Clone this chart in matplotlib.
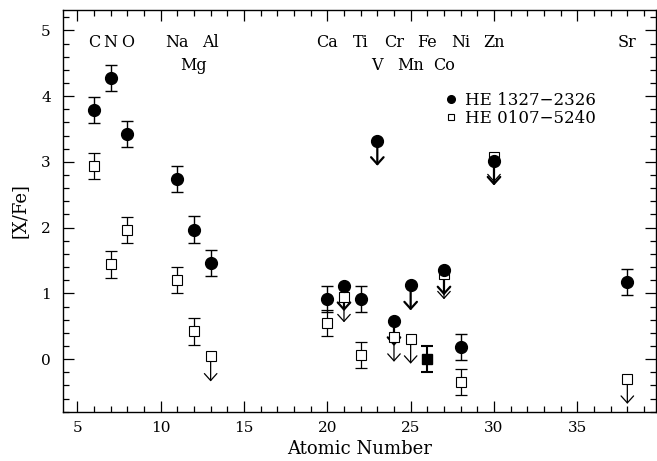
import matplotlib
matplotlib.use('Agg')
import matplotlib.pyplot as plt
from matplotlib.ticker import MultipleLocator
from matplotlib.lines import Line2D

plt.rcParams['font.family'] = ['DejaVu Serif']

# HE 1327-2326 (filled circles)
z_1327 = [6, 7, 8, 11, 12, 13, 20, 21, 22, 23, 24, 25, 27, 28, 30, 38]
xfe_1327 = [3.79, 4.28, 3.42, 2.74, 1.97, 1.46, 0.91, 1.11, 0.91, 3.32, 0.58, 1.12, 1.35, 0.18, 3.02, 1.17]
err_1327 = [0.2, 0.2, 0.2, 0.2, 0.2, 0.2, 0.2, 0.0, 0.2, 0.0, 0.0, 0.0, 0.0, 0.2, 0.0, 0.2]
lim_1327 = [0, 0, 0, 0, 0, 0, 0, 1, 0, 1, 1, 1, 1, 0, 1, 0]

# HE 0107-5240 (open squares)
z_0107 = [6, 7, 8, 11, 12, 13, 20, 21, 22, 24, 25, 27, 28, 30, 38]
xfe_0107 = [2.94, 1.44, 1.96, 1.20, 0.42, 0.04, 0.55, 0.94, 0.06, 0.34, 0.31, 1.29, -0.35, 3.07, -0.30]
err_0107 = [0.2, 0.2, 0.2, 0.2, 0.2, 0.0, 0.2, 0.0, 0.2, 0.0, 0.0, 0.0, 0.2, 0.0, 0.0]
lim_0107 = [0, 0, 0, 0, 0, 1, 0, 1, 0, 1, 1, 1, 0, 1, 1]

# Fe (both stars, [Fe/Fe] = 0)
fe_z = [26]
fe_val = [0.0]
fe_err = [0.2]

# Element labels
elem_names = ['C', 'N', 'O', 'Na', 'Mg', 'Al', 'Ca', 'Ti', 'V', 'Cr', 'Mn', 'Fe', 'Co', 'Ni', 'Zn', 'Sr']
elem_z = [6, 7, 8, 11, 12, 13, 20, 22, 23, 24, 25, 26, 27, 28, 30, 38]
elem_row = [0, 0, 0, 0, 1, 0, 0, 0, 1, 0, 1, 0, 1, 0, 0, 0]

legend_labels = ['HE 1327\u22122326', 'HE 0107\u22125240']

ARROW_LEN = 0.38

fig = plt.figure(figsize=(6.57, 4.61), dpi=100)
ax = fig.add_axes([63.3/657, 1-411.7/461, (656-63.3)/657, (411.7-10)/461])

def draw_arrow(z, v, lw):
    ax.annotate('', xy=(z, v - ARROW_LEN), xytext=(z, v),
                arrowprops=dict(arrowstyle='->,head_length=0.5,head_width=0.45',
                                lw=lw, color='k', shrinkA=0, shrinkB=0,
                                mutation_scale=10), zorder=3)

# open squares
for z, v, e, l in zip(z_0107, xfe_0107, err_0107, lim_0107):
    if l:
        draw_arrow(z, v, 0.9)
    else:
        ax.errorbar([z], [v], yerr=[e], fmt='none', ecolor='k', elinewidth=0.9,
                    capsize=4, capthick=0.9, zorder=2)
    ax.plot([z], [v], marker='s', ms=7, mfc='white', mec='k', mew=0.8, ls='none', zorder=4)

# filled circles
for z, v, e, l in zip(z_1327, xfe_1327, err_1327, lim_1327):
    if l:
        draw_arrow(z, v, 1.6)
    else:
        ax.errorbar([z], [v], yerr=[e], fmt='none', ecolor='k', elinewidth=1.0,
                    capsize=4, capthick=1.0, zorder=5)
    ax.plot([z], [v], marker='o', ms=8.5, mfc='k', mec='k', ls='none', zorder=6)

# Fe
ax.errorbar(fe_z, fe_val, yerr=fe_err, fmt='s', ms=7, mfc='k', mec='k', ecolor='k',
            elinewidth=1.5, capsize=4, capthick=1.5, zorder=6)

# element labels
row_y = [4.81, 4.47]
for n, z, r in zip(elem_names, elem_z, elem_row):
    ax.text(z, row_y[r], n, ha='center', va='center', fontsize=11.5)

# legend
handles = [Line2D([], [], marker='o', ms=5.5, mfc='k', mec='k', ls='none'),
           Line2D([], [], marker='s', ms=5, mfc='white', mec='k', mew=0.8, ls='none')]
ax.legend(handles, legend_labels, loc='upper left', bbox_to_anchor=(0.645, 0.797),
          frameon=False, handlelength=0.7, handletextpad=0.45, labelspacing=0.1,
          borderpad=0, borderaxespad=0, fontsize=12)

ax.set_xlim(4.16, 39.72)
ax.set_ylim(-0.8, 5.31)
ax.xaxis.set_major_locator(MultipleLocator(5))
ax.xaxis.set_minor_locator(MultipleLocator(1))
ax.yaxis.set_major_locator(MultipleLocator(1))
ax.yaxis.set_minor_locator(MultipleLocator(0.2))
ax.tick_params(which='both', direction='in', top=True, right=True, labelsize=11, width=0.9)
ax.tick_params(which='major', length=8)
ax.tick_params(which='minor', length=4.5)
ax.tick_params(axis='x', which='major', pad=7)
ax.tick_params(axis='y', which='major', pad=9)
for s in ax.spines.values():
    s.set_linewidth(1.0)

ax.set_xlabel('Atomic Number', fontsize=13, labelpad=3)
ax.set_ylabel('[X/Fe]', fontsize=13, labelpad=9)

fig.savefig('out.png', dpi=100)
